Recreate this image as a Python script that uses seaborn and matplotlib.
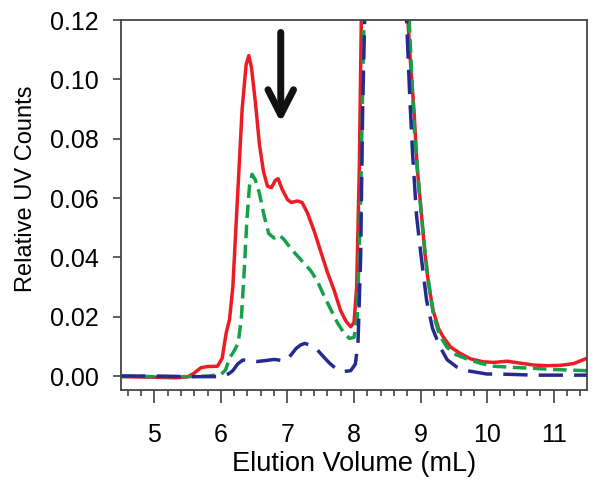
import numpy as np
import pandas as pd
import matplotlib
matplotlib.use("Agg")
import matplotlib.pyplot as plt
from matplotlib.ticker import MultipleLocator, FormatStrFormatter
import seaborn as sns

# elution volume (mL) / relative UV counts
red_x = [4.5, 5.0, 5.3, 5.5, 5.6, 5.7, 5.8, 5.95, 6.02, 6.08, 6.13, 6.18, 6.25,
         6.32, 6.38, 6.42, 6.46, 6.52, 6.58, 6.64, 6.7, 6.76, 6.82, 6.86, 6.92,
         7.0, 7.06, 7.15, 7.22, 7.3, 7.4, 7.5, 7.6, 7.7, 7.8, 7.88, 7.95, 8.0,
         8.04, 8.08, 8.11, 8.2, 8.5, 8.75, 8.81, 8.85, 8.9, 8.95, 9.0, 9.06,
         9.12, 9.19, 9.27, 9.34, 9.45, 9.59, 9.75, 9.94, 10.1, 10.3, 10.45,
         10.7, 10.9, 11.1, 11.3, 11.5]
red_y = [-0.0002, -0.0004, -0.0006, -0.0003, 0.001, 0.0028, 0.0032, 0.0033,
         0.006, 0.0145, 0.019, 0.03, 0.06, 0.09, 0.105, 0.108, 0.104, 0.092,
         0.078, 0.069, 0.064, 0.0635, 0.066, 0.0665, 0.063, 0.0595, 0.0585,
         0.059, 0.0585, 0.055, 0.049, 0.042, 0.035, 0.029, 0.022, 0.0185,
         0.0166, 0.018, 0.03, 0.07, 0.12, 0.25, 0.4, 0.25, 0.12, 0.105, 0.09,
         0.07, 0.058, 0.0425, 0.031, 0.022, 0.016, 0.0132, 0.0098, 0.0077,
         0.0058, 0.0048, 0.0046, 0.005, 0.0045, 0.0037, 0.0035, 0.0036,
         0.0042, 0.006]

green_x = [4.5, 5.0, 5.5, 5.8, 6.0, 6.07, 6.13, 6.2, 6.26, 6.31, 6.35, 6.39,
           6.43, 6.47, 6.52, 6.58, 6.65, 6.72, 6.8, 6.88, 6.95, 7.05, 7.15,
           7.25, 7.35, 7.45, 7.55, 7.65, 7.75, 7.85, 7.93, 8.0, 8.05, 8.1,
           8.15, 8.3, 8.6, 8.8, 8.83, 8.88, 8.91, 8.98, 9.04, 9.1, 9.19, 9.28,
           9.39, 9.5, 9.69, 9.9, 10.1, 10.4, 10.7, 11.0, 11.5]
green_y = [0.0, -0.0002, -0.0002, 0.0, 0.0005, 0.002, 0.006, 0.0085, 0.011,
           0.02, 0.035, 0.052, 0.064, 0.068, 0.066, 0.0615, 0.054, 0.048,
           0.0465, 0.0475, 0.046, 0.043, 0.0405, 0.038, 0.0355, 0.032, 0.027,
           0.0225, 0.018, 0.0145, 0.0127, 0.013, 0.02, 0.06, 0.12, 0.3, 0.4,
           0.2, 0.12, 0.095, 0.082, 0.062, 0.048, 0.035, 0.021, 0.014, 0.0099,
           0.0075, 0.0058, 0.0043, 0.0033, 0.0029, 0.0026, 0.0022, 0.0018]

navy_x = [4.5, 5.0, 5.5, 5.9, 6.05, 6.12, 6.18, 6.25, 6.33, 6.45, 6.55, 6.7,
          6.8, 6.9, 6.98, 7.05, 7.13, 7.2, 7.26, 7.33, 7.43, 7.53, 7.63, 7.73,
          7.83, 7.95, 8.02, 8.06, 8.1, 8.13, 8.16, 8.3, 8.6, 8.75, 8.79, 8.84,
          8.88, 8.94, 9.0, 9.09, 9.18, 9.29, 9.4, 9.54, 9.7, 9.99, 10.3, 10.7,
          11.5]
navy_y = [0.0, 0.0, -0.0002, -0.0002, 0.0, 0.0008, 0.0018, 0.004, 0.0054,
          0.0052, 0.0049, 0.0053, 0.0056, 0.0053, 0.0052, 0.007, 0.0093,
          0.0105, 0.011, 0.0105, 0.0093, 0.0068, 0.0044, 0.0025, 0.0015,
          0.0018, 0.004, 0.011, 0.04, 0.09, 0.12, 0.3, 0.4, 0.2, 0.12, 0.093,
          0.075, 0.054, 0.042, 0.0256, 0.016, 0.0099, 0.0055, 0.0031, 0.0018,
          0.0007, 0.0006, 0.0003, 0.0003]

x_ticks = [5, 6, 7, 8, 9, 10, 11]
y_ticks = [0.00, 0.02, 0.04, 0.06, 0.08, 0.10, 0.12]

sns.set_style("ticks")
plt.rcParams['font.family'] = ['Liberation Sans', 'DejaVu Sans']

fig = plt.figure(figsize=(6.01, 4.82), dpi=100)
ax = fig.add_axes([0.2013, 0.1909, 0.7754, 0.7676])

red_df = pd.DataFrame({'vol': red_x, 'uv': red_y})
green_df = pd.DataFrame({'vol': green_x, 'uv': green_y})
navy_df = pd.DataFrame({'vol': navy_x, 'uv': navy_y})

sns.lineplot(data=red_df, x='vol', y='uv', ax=ax, color='#ec1c24',
             lw=2.5, estimator=None, sort=False)
sns.lineplot(data=green_df, x='vol', y='uv', ax=ax, color='#16a04a',
             lw=2.5, estimator=None, sort=False, linestyle=(0, (3.9, 1.9)))
sns.lineplot(data=navy_df, x='vol', y='uv', ax=ax, color='#252b8e',
             lw=2.5, estimator=None, sort=False, linestyle=(0, (7.0, 3.2)))

# arrow marking the shoulder
ax.annotate('', xy=(6.9, 0.0855), xytext=(6.9, 0.1158),
            arrowprops=dict(arrowstyle='->,head_length=0.45,head_width=0.23',
                            lw=5, color='#111111', mutation_scale=40,
                            shrinkA=0, shrinkB=0))

ax.set_xlim(4.5, 11.5)
ax.set_ylim(-0.0047, 0.12)
ax.set_xticks(x_ticks)
ax.set_yticks(y_ticks)
ax.xaxis.set_minor_locator(MultipleLocator(0.2))
ax.yaxis.set_major_formatter(FormatStrFormatter('%.2f'))

ax.set_xlabel('Elution Volume (mL)', fontsize=19.5, labelpad=3,
              color='black')
ax.set_ylabel('Relative UV Counts', fontsize=17, color='black')
ax.yaxis.set_label_coords(-0.18, 0.545)

ax.tick_params(axis='both', which='major', labelsize=18, color='#444444',
               labelcolor='black', direction='out')
ax.tick_params(axis='x', which='major', length=9, width=1.2, pad=15)
ax.tick_params(axis='x', which='minor', length=4.5, width=1.2,
               color='#444444')
ax.tick_params(axis='y', which='major', length=6, width=1.2, pad=10)

for side in ['top', 'right', 'bottom', 'left']:
    ax.spines[side].set_visible(True)
    ax.spines[side].set_color('#444444')
    ax.spines[side].set_linewidth(1.3)

fig.savefig('out.png', dpi=100)
